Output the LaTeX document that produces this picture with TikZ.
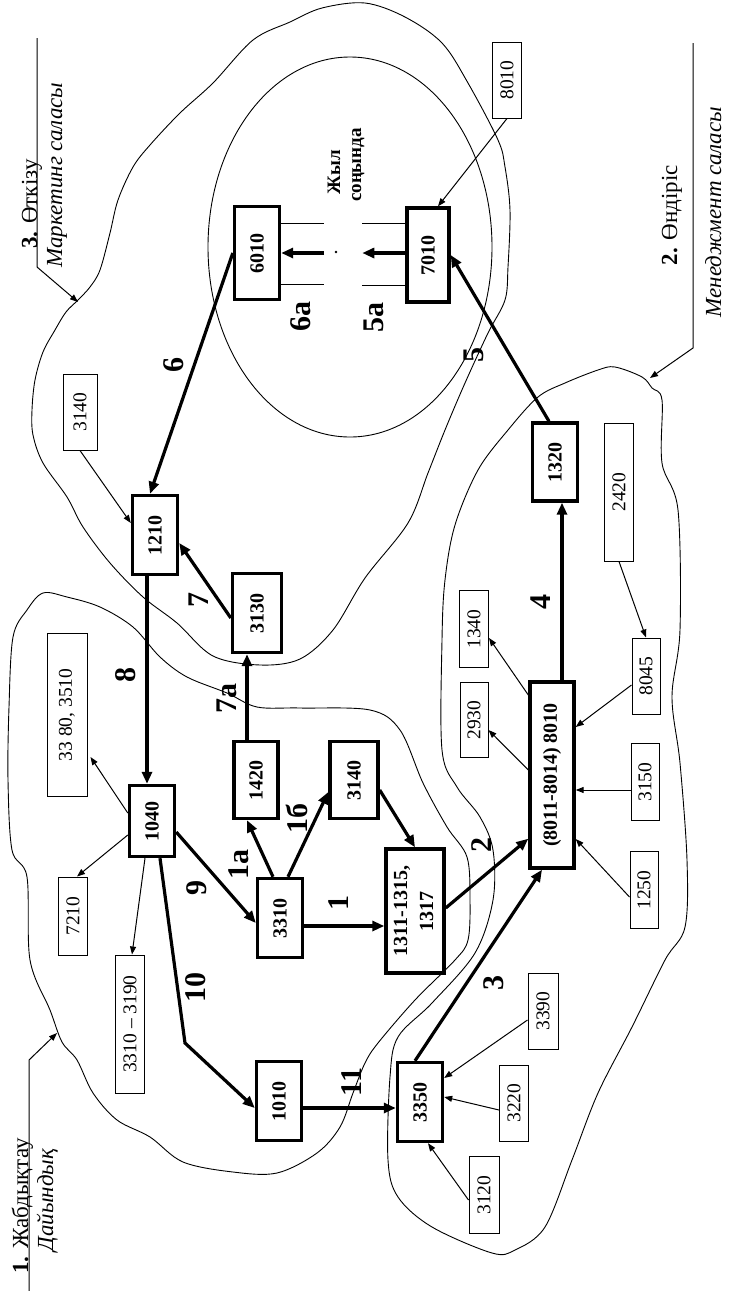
\documentclass[tikz,border=0pt]{standalone}
\usepackage{fontspec}
\setmainfont{Liberation Serif}
\usetikzlibrary{arrows.meta,calc}
\newcommand\rotx[1]{\rotatebox{90}{#1}}
\begin{document}
\begin{tikzpicture}[x=1pt,y=-1pt,
  thickbox/.style={draw, line width=3.4pt, inner sep=0pt, font=\bfseries\fontsize{20}{26}\selectfont},
  thinbox/.style={draw, line width=1pt, inner sep=0pt, font=\fontsize{19.5}{26}\selectfont},
  bigarrow/.style={line width=3.2pt, -{Triangle[length=12pt,width=10pt]}},
  smallarrow/.style={line width=1pt, -{Triangle[length=8pt,width=6pt]}},
  plainline/.style={line width=1pt},
  blob/.style={line width=0.9pt},
  numlabel/.style={rotate=90, inner sep=0pt, font=\bfseries\fontsize{30}{30}\selectfont},
  titletext/.style={rotate=90, inner sep=0pt, anchor=base, font=\fontsize{23}{23}\selectfont},
  titleital/.style={rotate=90, inner sep=0pt, anchor=base, font=\itshape\fontsize{23}{23}\selectfont},
  yeartext/.style={rotate=90, inner sep=0pt, anchor=base, font=\bfseries\fontsize{19}{19}\selectfont},
]
\useasboundingbox (0,0) rectangle (729,1291);

% ---- region outlines ----
\draw[blob] plot[smooth cycle, tension=0.55] coordinates {
 (365,3) (322,8) (290,22) (253,40) (213,83) (180,113) (150,145) (133,167) (118,200)
 (110,233) (100,270) (90,287) (78,300) (66,312) (55,330) (43,352) (35,380) (32,410)
 (33,435) (43,463) (67,497) (83,527) (110,563) (143,597) (177,623) (213,656) (260,665)
 (300,659) (333,630) (365,578) (408,523) (428,473) (445,430) (465,383) (488,333)
 (505,300) (508,267) (510,210) (505,167) (498,140) (468,83) (442,43) (405,17)};

\draw[blob] plot[smooth cycle, tension=0.55] coordinates {
 (43,593) (67,597) (100,607) (133,627) (160,657) (187,677) (227,693) (257,707)
 (300,708) (370,710) (400,730) (423,783) (447,827) (467,857) (470,900) (468,940)
 (455,960) (415,1000) (378,1043) (365,1063) (353,1093) (340,1127) (317,1153)
 (277,1173) (233,1172) (183,1162) (150,1137) (117,1120) (93,1093) (77,1060)
 (62,1042) (50,1010) (30,960) (27,877) (12,850) (8,780) (9,707) (13,637) (27,610)};

\draw[blob] plot[smooth cycle, tension=0.55] coordinates {
 (442,640) (445,580) (455,525) (478,470) (508,430) (538,397) (565,383) (598,370)
 (615,367) (642,377) (652,388) (662,400) (662,463) (678,510) (680,630) (672,697)
 (680,763) (687,860) (685,927) (665,960) (632,1027) (598,1093) (572,1160)
 (545,1227) (515,1250) (492,1253) (432,1227) (398,1197) (388,1160) (390,1077)
 (398,1037) (432,1003) (475,953) (493,900) (493,850) (480,817) (457,787) (442,750)};

\draw[blob] (350,247) ellipse [x radius=142pt, y radius=190pt];

% ---- boxes ----
\node[thickbox, minimum width=45pt, minimum height=93pt] (n6010) at (257,253) {\rotx{6010}};
\node[thickbox, minimum width=42pt, minimum height=94pt] (n7010) at (428,255) {\rotx{7010}};
\node[thinbox, minimum width=29pt, minimum height=76pt] (n8010t) at (507,80) {\rotx{8010}};
\node[thinbox, minimum width=34pt, minimum height=76pt] (n3140t) at (80,412) {\rotx{3140}};
\node[thickbox, minimum width=45pt, minimum height=79pt] (n1210) at (155,535) {\rotx{1210}};
\node[thickbox, minimum width=49pt, minimum height=79pt] (n3130) at (257,613) {\rotx{3130}};
\node[thinbox, minimum width=40pt, minimum height=163pt] (n3380) at (67,715) {\rotx{33 80, 3510}};
\node[thickbox, minimum width=45pt, minimum height=71pt] (n1040) at (152,821) {\rotx{1040}};
\node[thickbox, minimum width=44pt, minimum height=77pt] (n1420) at (256,780) {\rotx{1420}};
\node[thickbox, minimum width=48pt, minimum height=77pt] (n3140) at (354,780) {\rotx{3140}};
\node[thickbox, minimum width=45pt, minimum height=79pt] (n3310) at (280,918) {\rotx{3310}};
\node[thickbox, minimum width=58pt, minimum height=124pt] (n1311) at (415,911)
  {\rotx{\begin{tabular}{@{}c@{}}1311-1315,\\1317\end{tabular}}};
\node[thinbox, minimum width=29pt, minimum height=78pt] (n7210) at (73,916) {\rotx{7210}};
\node[thinbox, minimum width=29pt, minimum height=138pt] (n3319) at (130,1024) {\rotx{3310 – 3190}};
\node[thickbox, minimum width=45pt, minimum height=79pt] (n1010) at (279,1101) {\rotx{1010}};
\node[thickbox, minimum width=45pt, minimum height=79pt] (n3350) at (420,1102) {\rotx{3350}};
\node[thinbox, minimum width=30pt, minimum height=76pt] (n3390) at (543,1011) {\rotx{3390}};
\node[thinbox, minimum width=29pt, minimum height=76pt] (n3220) at (514,1103) {\rotx{3220}};
\node[thinbox, minimum width=30pt, minimum height=77pt] (n3120) at (484,1195) {\rotx{3120}};
\node[thinbox, minimum width=28pt, minimum height=77pt] (n1250) at (644,890) {\rotx{1250}};
\node[thickbox, minimum width=44pt, minimum height=186pt] (n8010b) at (552,775) {\rotx{(8011-8014) 8010}};
\node[thinbox, minimum width=28pt, minimum height=75pt] (n2930) at (474,720) {\rotx{2930}};
\node[thinbox, minimum width=28pt, minimum height=77pt] (n3150) at (645,782) {\rotx{3150}};
\node[thinbox, minimum width=28pt, minimum height=76pt] (n8045) at (646,676) {\rotx{8045}};
\node[thinbox, minimum width=29pt, minimum height=77pt] (n1340) at (474,629) {\rotx{1340}};
\node[thinbox, minimum width=29pt, minimum height=138pt] (n2420) at (619,492) {\rotx{2420}};
\node[thickbox, minimum width=45pt, minimum height=78pt] (n1320) at (555,462) {\rotx{1320}};

% ---- thick connectors ----
\draw[bigarrow] (n6010.west) -- ($(n1210.north)+(-5,0)$);
\draw[bigarrow] ($(n1320.north)+(-6,0)$) -- (n7010.east);
\draw[bigarrow] ($(n3130.west)+(0,5)$) -- ($(n1210.east)+(0,8)$);
\draw[bigarrow] ($(n1210.south)+(-8,0)$) -- ($(n1040.north)+(-5,0)$);
\draw[bigarrow] ($(n1420.north)+(-9,0)$) -- ($(n3130.south)+(-10,0)$);
\draw[bigarrow] ($(n3310.north)+(-7,0)$) -- ($(n1420.south)+(-9,0)$);
\draw[bigarrow] ($(n3310.north)+(8,0)$) -- ($(n3140.west)+(0,12)$);
\draw[bigarrow] ($(n3140.east)+(0,10)$) -- (n1311.north);
\draw[bigarrow] ($(n3310.east)+(0,8)$) -- ($(n1311.west)+(0,15)$);
\draw[bigarrow] ($(n1040.east)+(0,11)$) -- ($(n3310.west)+(0,5)$);
\coordinate (bend10) at (185,1043);
\draw[bigarrow] ($(n1040.south)+(8,0)$) -- (bend10) -- ($(n1010.west)+(0,7)$);
\draw[bigarrow] ($(n1010.east)+(0,7)$) -- ($(n3350.west)+(0,6)$);
\draw[bigarrow] ($(n1311.east)+(0,-3)$) -- ($(n8010b.south west)+(0,-31)$);
\draw[bigarrow] ($(n3350.north)+(-5,0)$) -- ($(n8010b.south)+(-10,0)$);
\draw[bigarrow] ($(n8010b.north)+(10,0)$) -- ($(n1320.south)+(7,0)$);

% ---- end-of-year stubs ----
\draw[plainline] ($(n6010.east)+(0,-30)$) -- ++(43,0);
\draw[plainline] ($(n6010.east)+(0,31)$) -- ++(43,0);
\draw[bigarrow] ($(n6010.east)+(43,0)$) -- (n6010.east);
\draw[plainline] ($(n7010.west)+(0,-32)$) -- ++(-43,0);
\draw[plainline] ($(n7010.west)+(0,30)$) -- ++(-43,0);
\draw[bigarrow] ($(n7010.west)+(0,-2)$) -- ++(-43,0);
\fill (336,252) circle (1.3pt);

% ---- thin connectors ----
\draw[smallarrow] (n3140t.south) -- ($(n1210.west)+(0,-12)$);
\draw[smallarrow] ($(n1040.west)+(0,-8)$) -- ($(n3380.east)+(3,42)$);
\draw[smallarrow] ($(n1040.west)+(0,14)$) -- ($(n7210.north)+(4,0)$);
\draw[smallarrow] ($(n1040.south)+(-7,0)$) -- ($(n3319.north)+(2,0)$);
\draw[smallarrow] ($(n8010b.west)+(0,-80)$) -- ($(n1340.east)+(0,9)$);
\draw[smallarrow] ($(n8010b.west)+(0,-5)$) -- ($(n2930.east)+(0,10)$);
\draw[smallarrow] ($(n8045.west)+(0,9)$) -- ($(n8010b.east)+(0,-48)$);
\draw[smallarrow] ($(n3150.west)+(0,8)$) -- ($(n8010b.east)+(0,15)$);
\draw[smallarrow] ($(n1250.west)+(0,7)$) -- ($(n8010b.east)+(0,64)$);
\draw[smallarrow] (n2420.south) -- (n8045.north);
\draw[smallarrow] ($(n3390.west)+(0,9)$) -- ($(n3350.east)+(0,-24)$);
\draw[smallarrow] ($(n3220.west)+(0,7)$) -- ($(n3350.east)+(0,-5)$);
\draw[smallarrow] ($(n3120.west)+(0,5)$) -- ($(n3350.south)+(8,0)$);
\draw[smallarrow] (n8010t.south) -- ($(n7010.north)+(10,0)$);

% ---- section labels ----
\coordinate (l1a) at (29,1291); \coordinate (l1b) at (29,1060); \coordinate (l1c) at (57,1033);
\draw[smallarrow] (l1a) -- (l1b) -- (l1c);
\coordinate (l3a) at (37,38); \coordinate (l3b) at (37,267); \coordinate (l3c) at (78,302);
\draw[smallarrow] (l3a) -- (l3b) -- (l3c);
\coordinate (l2a) at (693,43); \coordinate (l2b) at (693,348); \coordinate (l2c) at (650,378);
\draw[smallarrow] (l2a) -- (l2b) -- (l2c);

\node[titletext] (t1) at (28,1206) {\textbf{1.} Жабдықтау};
\node[titleital] (t1b) at (53,1200) {Дайындық};
\node[titletext] (t3) at (37,204) {\textbf{3.} Өткізу};
\node[titleital] (t3b) at (62,175) {Маркетинг саласы};
\node[titletext] (t2) at (677,215) {\textbf{2.} Өндіріс};
\node[titleital] (t2b) at (721,212) {Менеджмент саласы};

\node[yeartext] (jyl) at (340,172) {Жыл};
\node[yeartext] (son) at (361,165) {соңында};

% ---- arrow numbers ----
\node[numlabel] (k6) at (174,365) {6};
\node[numlabel] (k5) at (474,355) {5};
\node[numlabel] (k7) at (199,600) {7};
\node[numlabel] (k8) at (126,675) {8};
\node[numlabel] (k7a) at (227,698) {7a};
\node[numlabel] (k1a) at (239,864) {1a};
\node[numlabel] (k1b) at (297,818) {1б};
\node[numlabel] (k1) at (339,903) {1};
\node[numlabel] (k9) at (197,888) {9};
\node[numlabel] (k10) at (196,987) {10};
\node[numlabel] (k11) at (352,1082) {11};
\node[numlabel] (k2) at (482,845) {2};
\node[numlabel] (k3) at (494,983) {3};
\node[numlabel] (k4) at (541,602) {4};
\node[numlabel] (k6a) at (301,316) {6a};
\node[numlabel] (k5a) at (374,317) {5a};
\end{tikzpicture}
\end{document}
